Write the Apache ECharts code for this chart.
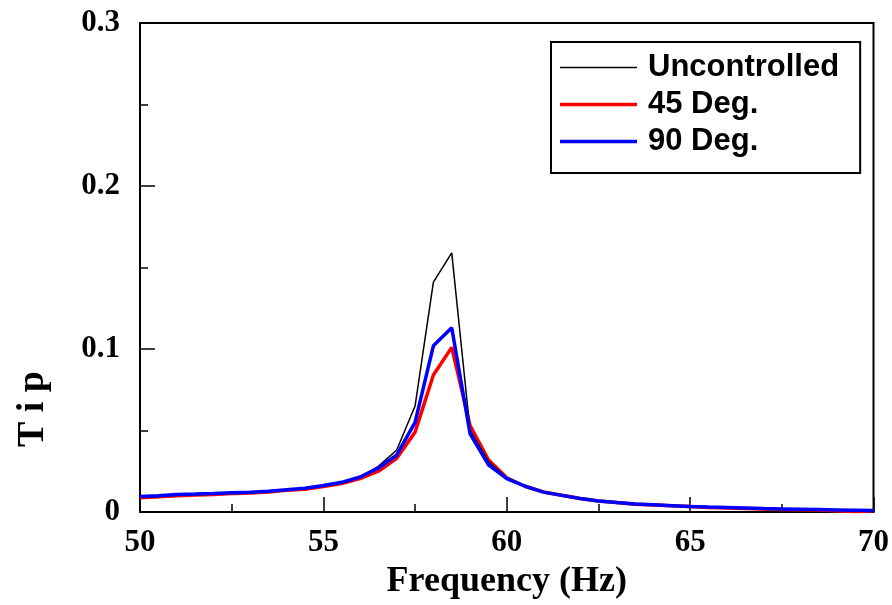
<!DOCTYPE html>
<html>
<head>
<meta charset="utf-8">
<script src="https://cdn.jsdelivr.net/npm/echarts@6/dist/echarts.min.js"></script>
<style>
  html, body { margin: 0; padding: 0; background: #fff; }
  #chart { width: 892px; height: 605px; }
</style>
</head>
<body>
<div id="chart"></div>
<script>
var freq = [50, 50.5, 51, 51.5, 52, 52.5, 53, 53.5, 54, 54.5, 55, 55.5, 56, 56.5, 57, 57.5, 58, 58.5, 59, 59.5,
  60, 60.5, 61, 61.5, 62, 62.5, 63, 63.5, 64, 64.5, 65, 65.5, 66, 66.5, 67, 67.5, 68, 68.5, 69, 69.5, 70];

var uncontrolled = [0.009, 0.0095, 0.0102, 0.0106, 0.011, 0.0116, 0.012, 0.0126, 0.0135, 0.0145, 0.016, 0.018, 0.0215, 0.028, 0.038, 0.065, 0.141, 0.159, 0.050, 0.031,
  0.021, 0.016, 0.0125, 0.0105, 0.0085, 0.007, 0.006, 0.005, 0.0045, 0.004, 0.0035, 0.003, 0.0028, 0.0025, 0.0022, 0.002, 0.0018, 0.0016, 0.0014, 0.0012, 0.001];

var deg45 = [0.0088, 0.0093, 0.010, 0.0104, 0.0108, 0.0113, 0.0117, 0.0123, 0.0133, 0.0140, 0.0157, 0.0175, 0.0205, 0.025, 0.033, 0.049, 0.084, 0.101, 0.053, 0.032,
  0.021, 0.0158, 0.0123, 0.0103, 0.0083, 0.0068, 0.0058, 0.0048, 0.0043, 0.0038, 0.0033, 0.0028, 0.0025, 0.0022, 0.0019, 0.0016, 0.0014, 0.0012, 0.0008, 0.0003, 0.0006];

var deg90 = [0.0095, 0.0100, 0.0108, 0.0110, 0.0113, 0.0118, 0.0121, 0.0127, 0.0136, 0.0146, 0.0162, 0.0182, 0.0215, 0.027, 0.035, 0.055, 0.102, 0.113, 0.048, 0.029,
  0.0205, 0.0158, 0.0122, 0.0102, 0.0083, 0.0068, 0.0058, 0.0049, 0.0044, 0.0039, 0.0034, 0.0030, 0.0027, 0.0024, 0.0021, 0.0019, 0.0017, 0.0015, 0.0013, 0.0011, 0.0009];

function pairs(ys) {
  return freq.map(function (f, i) { return [f, ys[i]]; });
}

var serif = "'Liberation Serif', 'Times New Roman', serif";
var chart = echarts.init(document.getElementById("chart"));

var option = {
  animation: false,
  backgroundColor: "#fff",
  grid: {
    left: 140, right: 17, top: 23, bottom: 93,
    show: true, borderColor: "#000", borderWidth: 2
  },
  legend: {
    left: 551, top: 42,
    orient: "vertical",
    borderColor: "#000", borderWidth: 2,
    padding: [10, 21, 16, 9],
    itemWidth: 77, itemHeight: 4, itemGap: 6,
    itemStyle: { borderWidth: 0 },
    textStyle: { fontFamily: "'Liberation Sans', Arial, sans-serif", fontWeight: "bold", fontSize: 31, lineHeight: 31, color: "#000", padding: [0, 0, 0, 6] },
    data: [
      { name: "Uncontrolled", icon: "path://M0,0H77V1.5H0Z" },
      { name: "45 Deg.", icon: "path://M0,0H77V3.5H0Z" },
      { name: "90 Deg.", icon: "path://M0,0H77V3.5H0Z" }
    ]
  },
  xAxis: {
    type: "value", min: 50, max: 70, interval: 5,
    name: "Frequency (Hz)", nameLocation: "middle", nameGap: 52,
    nameTextStyle: { fontFamily: serif, fontWeight: "bold", fontSize: 36, color: "#000" },
    axisLine: { lineStyle: { color: "#000", width: 2 } },
    axisTick: { inside: true, length: 15, lineStyle: { color: "#000", width: 1.5 } },
    minorTick: { show: true, splitNumber: 2, length: 8, lineStyle: { color: "#000", width: 1.5 } },
    axisLabel: { margin: 15, fontFamily: serif, fontWeight: "bold", fontSize: 31, color: "#000" },
    splitLine: { show: false }
  },
  yAxis: {
    type: "value", min: 0, max: 0.3, interval: 0.1,
    axisLine: { lineStyle: { color: "#000", width: 2 } },
    axisTick: { inside: true, length: 15, lineStyle: { color: "#000", width: 1.5 } },
    minorTick: { show: true, splitNumber: 2, length: 8, lineStyle: { color: "#000", width: 1.5 } },
    axisLabel: { margin: 20, fontFamily: serif, fontWeight: "bold", fontSize: 31, color: "#000" },
    splitLine: { show: false }
  },
  graphic: [{
    type: "text",
    left: 14, top: 371,
    rotation: Math.PI / 2,
    style: {
      text: "T i p",
      font: "bold 38px " + serif,
      fill: "#000"
    }
  }],
  series: [
    { name: "Uncontrolled", type: "line", data: pairs(uncontrolled), showSymbol: false, symbol: "none",
      lineStyle: { color: "#000", width: 1.5 }, itemStyle: { color: "#000" }, z: 3 },
    { name: "45 Deg.", type: "line", data: pairs(deg45), showSymbol: false, symbol: "none",
      lineStyle: { color: "#ff0000", width: 3.5 }, itemStyle: { color: "#ff0000" }, z: 2 },
    { name: "90 Deg.", type: "line", data: pairs(deg90), showSymbol: false, symbol: "none",
      lineStyle: { color: "#0000ff", width: 3.5 }, itemStyle: { color: "#0000ff" }, z: 4 }
  ]
};

chart.setOption(option);
</script>
</body>
</html>
